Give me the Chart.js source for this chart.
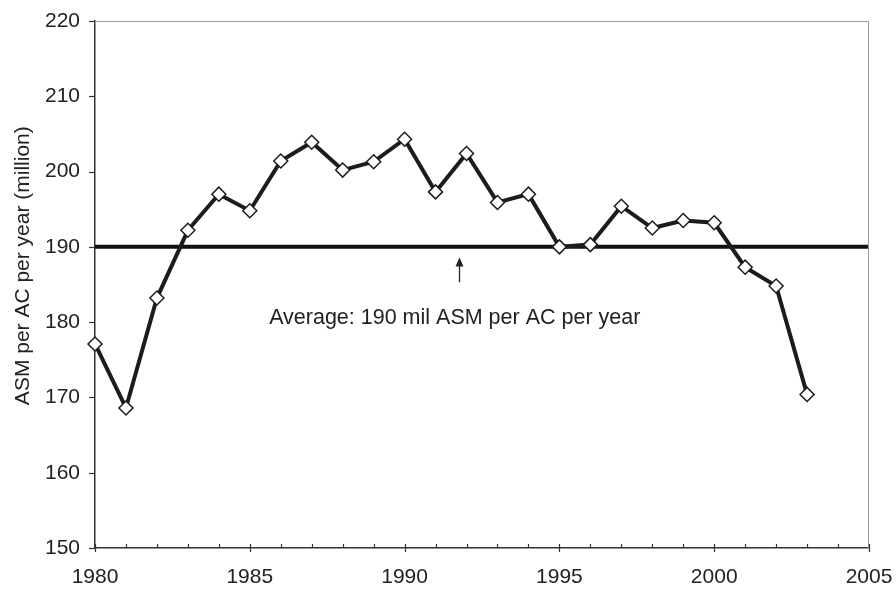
<!DOCTYPE html>
<html lang="en">
<head>
  <meta charset="UTF-8">
  <title>ASM per AC per year</title>
  <script src="https://cdn.jsdelivr.net/npm/chart.js"></script>
  <style>
    html, body { margin: 0; padding: 0; background: #fff; }
    #wrap { width: 896px; height: 592px; }
  </style>
</head>
<body>
  <div id="wrap"><canvas id="myChart" width="896" height="592"></canvas></div>

  <script>
    // data
    const years = [1980, 1981, 1982, 1983, 1984, 1985, 1986, 1987, 1988, 1989, 1990, 1991,
                   1992, 1993, 1994, 1995, 1996, 1997, 1998, 1999, 2000, 2001, 2002, 2003];
    const asm = [177.1, 168.6, 183.2, 192.2, 197.0, 194.8, 201.4, 203.9, 200.2, 201.3, 204.3, 197.3,
                 202.4, 195.9, 197.0, 190.0, 190.3, 195.4, 192.5, 193.5, 193.2, 187.3, 184.8, 170.4];
    const avgValue = 190;
    const xTicks = [1980, 1985, 1990, 1995, 2000, 2005];
    const yTicks = [150, 160, 170, 180, 190, 200, 210, 220];
    const yTitle = 'ASM per AC per year (million)';
    const avgLabel = 'Average: 190 mil ASM per AC per year';

    const FONT = '"Liberation Sans", Arial, sans-serif';
    const INK = '#1c1c1c';

    // frame, minor ticks, axis title and the average annotation
    const extras = {
      id: 'extras',
      afterDraw(chart) {
        const c = chart.ctx;
        const a = chart.chartArea;
        const xs = chart.scales.x, ys = chart.scales.y;
        c.save();
        // thin gray frame on top and right
        c.strokeStyle = '#9a9a9a';
        c.lineWidth = 1;
        c.beginPath();
        c.moveTo(a.left, a.top + 0.5);
        c.lineTo(a.right - 0.5, a.top + 0.5);
        c.lineTo(a.right - 0.5, a.bottom);
        c.stroke();
        // x ticks: minor inward every year, major crossing every 5
        c.strokeStyle = '#333';
        c.lineWidth = 1.2;
        for (let yr = xs.min; yr <= xs.max; yr++) {
          const px = Math.round(xs.getPixelForValue(yr)) + 0.5;
          const major = xTicks.includes(yr);
          c.beginPath();
          c.moveTo(px, a.bottom - 4);
          c.lineTo(px, a.bottom + (major ? 4 : 0));
          c.stroke();
        }
        // y ticks outward
        yTicks.forEach(v => {
          const py = Math.round(ys.getPixelForValue(v)) + 0.5;
          c.beginPath();
          c.moveTo(a.left - 6, py);
          c.lineTo(a.left, py);
          c.stroke();
        });
        // y axis title
        c.fillStyle = '#222';
        c.font = '21px ' + FONT;
        c.textAlign = 'center';
        c.textBaseline = 'middle';
        c.translate(23, ys.getPixelForValue(187.5));
        c.rotate(-Math.PI / 2);
        c.fillText(yTitle, 0, 0);
        c.restore();

        // arrow + label for the average line
        c.save();
        const ax = Math.round(xs.getPixelForValue(1991.75)) + 0.5;
        const yTop = ys.getPixelForValue(188.6);
        const yBot = ys.getPixelForValue(185.3);
        c.strokeStyle = '#222';
        c.fillStyle = '#222';
        c.lineWidth = 1.3;
        c.beginPath();
        c.moveTo(ax, yBot);
        c.lineTo(ax, yTop + 6);
        c.stroke();
        c.beginPath();
        c.moveTo(ax, yTop);
        c.lineTo(ax - 4, yTop + 9);
        c.lineTo(ax + 4, yTop + 9);
        c.closePath();
        c.fill();
        c.font = '21.5px ' + FONT;
        c.textAlign = 'center';
        c.textBaseline = 'alphabetic';
        c.fillText(avgLabel, xs.getPixelForValue(1991.62), ys.getPixelForValue(179.8));
        c.restore();
      }
    };

    const ctx = document.getElementById('myChart').getContext('2d');
    const chart = new Chart(ctx, {
      type: 'line',
      data: {
        datasets: [
          {
            label: 'ASM per AC',
            data: years.map((y, i) => ({ x: y, y: asm[i] })),
            borderColor: INK,
            borderWidth: 4,
            pointStyle: 'rectRot',
            pointRadius: 7,
            pointBackgroundColor: '#fff',
            pointBorderColor: INK,
            pointBorderWidth: 1.5,
            tension: 0,
            clip: false,
            order: 1
          },
          {
            label: 'Average',
            data: [{ x: 1980, y: avgValue }, { x: 2005, y: avgValue }],
            borderColor: '#111',
            borderWidth: 4,
            pointRadius: 0,
            order: 2
          }
        ]
      },
      options: {
        responsive: false,
        animation: false,
        layout: { padding: { top: 21, right: 27, left: 0, bottom: 0 } },
        plugins: { legend: { display: false }, tooltip: { enabled: false } },
        scales: {
          x: {
            type: 'linear',
            min: 1980,
            max: 2005,
            afterBuildTicks: s => { s.ticks = xTicks.map(v => ({ value: v })); },
            ticks: {
              color: '#222', font: { family: FONT, size: 21 }, padding: 17, maxRotation: 0, autoSkip: false,
              callback: v => String(v)
            },
            grid: { display: false, drawTicks: false },
            border: { display: true, color: '#333', width: 1.5 },
            afterFit: s => { s.height = 44; s.paddingLeft = 0; s.paddingRight = 0; }
          },
          y: {
            min: 150,
            max: 220,
            afterBuildTicks: s => { s.ticks = yTicks.map(v => ({ value: v })); },
            ticks: { color: '#222', font: { family: FONT, size: 21 }, padding: 15 },
            grid: { display: false, drawTicks: false },
            border: { display: true, color: '#333', width: 1.5 },
            afterFit: s => { s.width = 95; s.paddingTop = 0; s.paddingBottom = 0; }
          }
        }
      },
      plugins: [extras]
    });
  </script>
</body>
</html>
